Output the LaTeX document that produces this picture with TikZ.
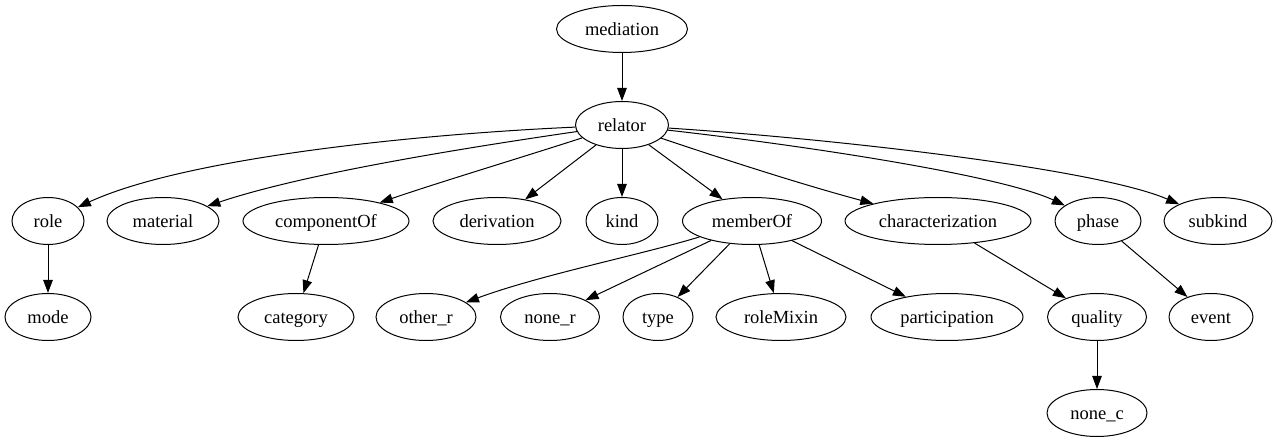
\documentclass[tikz,border=0pt]{standalone}
\usepackage{fontspec}
\setmainfont{Liberation Serif}
\usetikzlibrary{shapes.geometric,arrows.meta}
\begin{document}
\begin{tikzpicture}[x=1pt,y=-1pt,
  nd/.style={ellipse,draw,line width=1pt,inner sep=0pt,minimum height=47pt,
    text height=14.5pt,text depth=2pt,
    font=\fontsize{18.5}{20}\selectfont},
  edge/.style={draw,line width=1pt,-{Triangle[length=13pt,width=9.5pt]}}]
\path[use as bounding box] (0,0) rectangle (1277,443);

% rank 0 and 1
\node[nd,minimum width=131pt] (mediation) at (622,29) {mediation};
\node[nd,minimum width=93pt]  (relator)   at (622,125) {relator};

% rank 2
\node[nd,minimum width=72pt]  (role)             at (48,221)   {role};
\node[nd,minimum width=112pt] (material)         at (163,221)  {material};
\node[nd,minimum width=166pt] (componentOf)      at (326,221)  {componentOf};
\node[nd,minimum width=128pt] (derivation)       at (497,221)  {derivation};
\node[nd,minimum width=72pt]  (kind)             at (622,221)  {kind};
\node[nd,minimum width=139pt] (memberOf)         at (752,221)  {memberOf};
\node[nd,minimum width=186pt] (characterization) at (938,221)  {characterization};
\node[nd,minimum width=86pt]  (phase)            at (1098,221) {phase};
\node[nd,minimum width=108pt] (subkind)          at (1218,221) {subkind};

% rank 3
\node[nd,minimum width=86pt]  (mode)          at (48,317)   {mode};
\node[nd,minimum width=116pt] (category)      at (296,317)  {category};
\node[nd,minimum width=100pt] (other_r)       at (426,317)  {other\_r};
\node[nd,minimum width=99pt]  (none_r)        at (550,317)  {none\_r};
\node[nd,minimum width=70pt]  (type)          at (658,317)  {type};
\node[nd,minimum width=130pt] (roleMixin)     at (781,317)  {roleMixin};
\node[nd,minimum width=152pt] (participation) at (947,317)  {participation};
\node[nd,minimum width=99pt]  (quality)       at (1097,317) {quality};
\node[nd,minimum width=84pt]  (event)         at (1211,317) {event};

% rank 4
\node[nd,minimum width=100pt] (none_c) at (1097,413) {none\_c};

% edges
\draw[edge] (mediation) -- (relator);
\draw[edge] (relator) .. controls (400,135) and (180,160) .. (role);
\draw[edge] (relator) .. controls (450,150) and (300,175) .. (material);
\draw[edge] (relator) .. controls (520,158) and (440,182) .. (componentOf);
\draw[edge] (relator) -- (derivation);
\draw[edge] (relator) -- (kind);
\draw[edge] (relator) -- (memberOf);
\draw[edge] (relator) .. controls (720,158) and (800,184) .. (characterization);
\draw[edge] (relator) .. controls (800,145) and (1000,175) .. (phase);
\draw[edge] (relator) .. controls (850,140) and (1100,170) .. (subkind);

\draw[edge] (role) -- (mode);
\draw[edge] (componentOf) -- (category);
\draw[edge] (memberOf) .. controls (640,255) and (540,275) .. (other_r);
\draw[edge] (memberOf) -- (none_r);
\draw[edge] (memberOf) -- (type);
\draw[edge] (memberOf) -- (roleMixin);
\draw[edge] (memberOf) -- (participation);
\draw[edge] (characterization) -- (quality);
\draw[edge] (phase) -- (event);
\draw[edge] (quality) -- (none_c);
\end{tikzpicture}
\end{document}
